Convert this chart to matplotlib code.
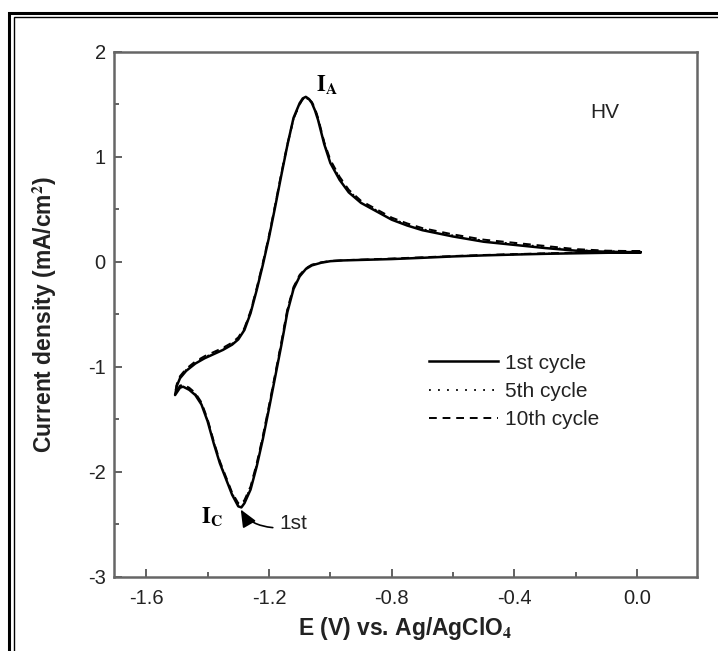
import matplotlib
matplotlib.use('Agg')
import matplotlib.pyplot as plt
from matplotlib.patches import Rectangle
from matplotlib.ticker import MultipleLocator

plt.rcParams['font.family'] = ['Liberation Sans', 'DejaVu Sans']
plt.rcParams['mathtext.fontset'] = 'stix'
plt.rcParams['axes.unicode_minus'] = False

# potential scan 0 V -> -1.5 V (cathodic sweep)
E_fwd = [0.01, -0.10, -0.20, -0.30, -0.40, -0.50, -0.60, -0.70, -0.80, -0.90,
         -0.96, -1.00, -1.03, -1.06, -1.08, -1.10, -1.12, -1.14, -1.16, -1.18,
         -1.20, -1.22, -1.24, -1.26, -1.28, -1.29, -1.30, -1.32, -1.34, -1.36,
         -1.38, -1.40, -1.42, -1.44, -1.46, -1.48, -1.49, -1.506]
i_fwd_1 = [0.09, 0.085, 0.08, 0.075, 0.068, 0.06, 0.05, 0.037, 0.025, 0.017,
           0.012, 0.005, -0.01, -0.035, -0.07, -0.14, -0.26, -0.48, -0.80, -1.10,
           -1.40, -1.69, -1.95, -2.17, -2.30, -2.34, -2.33, -2.22, -2.07, -1.92,
           -1.73, -1.52, -1.36, -1.27, -1.22, -1.19, -1.20, -1.27]
i_fwd_5 = [0.095, 0.09, 0.083, 0.077, 0.07, 0.062, 0.052, 0.04, 0.028, 0.019,
           0.013, 0.006, -0.008, -0.03, -0.065, -0.13, -0.25, -0.46, -0.78, -1.08,
           -1.38, -1.67, -1.93, -2.15, -2.28, -2.32, -2.31, -2.21, -2.06, -1.91,
           -1.72, -1.51, -1.35, -1.26, -1.21, -1.18, -1.19, -1.26]
i_fwd_10 = [0.10, 0.093, 0.086, 0.08, 0.072, 0.064, 0.054, 0.042, 0.03, 0.02,
            0.014, 0.007, -0.006, -0.028, -0.062, -0.125, -0.24, -0.45, -0.77, -1.07,
            -1.37, -1.66, -1.92, -2.14, -2.27, -2.31, -2.30, -2.20, -2.05, -1.90,
            -1.71, -1.50, -1.34, -1.25, -1.20, -1.17, -1.18, -1.25]

# return scan -1.5 V -> 0 V (anodic sweep)
E_rev = [-1.506, -1.50, -1.49, -1.47, -1.44, -1.41, -1.38, -1.35, -1.32, -1.30,
         -1.28, -1.26, -1.24, -1.22, -1.20, -1.18, -1.16, -1.14, -1.12, -1.10,
         -1.09, -1.08, -1.07, -1.06, -1.05, -1.04, -1.02, -1.00, -0.97, -0.94,
         -0.90, -0.85, -0.80, -0.75, -0.70, -0.60, -0.50, -0.40, -0.30, -0.20,
         -0.10, 0.01]
i_rev_1 = [-1.27, -1.18, -1.11, -1.04, -0.97, -0.92, -0.88, -0.84, -0.79, -0.74,
           -0.65, -0.49, -0.27, -0.03, 0.23, 0.52, 0.82, 1.11, 1.37, 1.51,
           1.555, 1.57, 1.55, 1.51, 1.44, 1.35, 1.12, 0.94, 0.78, 0.66,
           0.56, 0.48, 0.40, 0.345, 0.30, 0.24, 0.19, 0.16, 0.13, 0.105,
           0.095, 0.09]
i_rev_5 = [-1.26, -1.17, -1.10, -1.03, -0.96, -0.91, -0.87, -0.83, -0.78, -0.73,
           -0.64, -0.48, -0.26, -0.02, 0.24, 0.53, 0.83, 1.11, 1.36, 1.50,
           1.545, 1.56, 1.545, 1.51, 1.45, 1.36, 1.13, 0.96, 0.80, 0.675,
           0.57, 0.49, 0.41, 0.355, 0.31, 0.25, 0.20, 0.17, 0.14, 0.11,
           0.10, 0.095]
i_rev_10 = [-1.25, -1.16, -1.09, -1.02, -0.95, -0.90, -0.86, -0.82, -0.77, -0.72,
            -0.63, -0.47, -0.25, -0.01, 0.25, 0.54, 0.84, 1.12, 1.36, 1.50,
            1.545, 1.56, 1.55, 1.52, 1.46, 1.37, 1.14, 0.97, 0.81, 0.685,
            0.58, 0.50, 0.42, 0.365, 0.32, 0.26, 0.21, 0.18, 0.15, 0.12,
            0.105, 0.10]

x_ticks = [-1.6, -1.2, -0.8, -0.4, 0.0]
x_tick_labels = ['-1.6', '-1.2', '-0.8', '-0.4', '0.0']
y_ticks = [-3, -2, -1, 0, 1, 2]

fig = plt.figure(figsize=(7.18, 6.51), dpi=100)
ax = fig.add_axes([0.1588, 0.1141, 0.8120, 0.8065])

ax.plot(E_fwd + E_rev[1:], i_fwd_10 + i_rev_10[1:], color='black', lw=1.4,
        ls=(0, (4, 3)), label='10th cycle', zorder=2)
ax.plot(E_fwd + E_rev[1:], i_fwd_5 + i_rev_5[1:], color='black', lw=1.3,
        ls=(0, (1, 4)), label='5th cycle', zorder=3)
ax.plot(E_fwd + E_rev[1:], i_fwd_1 + i_rev_1[1:], color='black', lw=1.8,
        ls='-', label='1st cycle', zorder=4)

ax.set_xlim(-1.705, 0.195)
ax.set_ylim(-3, 2)
ax.set_xticks(x_ticks)
ax.set_xticklabels(x_tick_labels)
ax.set_yticks(y_ticks)
ax.xaxis.set_minor_locator(MultipleLocator(0.2))
ax.yaxis.set_minor_locator(MultipleLocator(0.5))
ax.tick_params(which='both', direction='in', colors='#555555', labelcolor='#222222',
               labelsize=14.5, width=1.3)
ax.tick_params(which='major', length=6)
ax.tick_params(which='minor', length=3.5)
ax.tick_params(axis='x', which='major', pad=9)
ax.tick_params(axis='y', which='major', pad=6)
for s in ax.spines.values():
    s.set_color('#666666')
    s.set_linewidth(1.8)

ax.set_xlabel(r'E (V) vs. Ag/AgClO$_\mathbf{4}$', fontsize=16.5, fontweight='bold',
              color='#222222', labelpad=5)
ax.set_ylabel(r'Current density (mA/cm$^\mathbf{2}$)', fontsize=16.5, fontweight='bold',
              color='#222222', labelpad=21)

# peak labels
ax.text(-1.048, 1.69, r'$\mathbf{I}_\mathbf{A}$', fontsize=16, ha='left', va='center')
ax.text(-1.42, -2.43, r'$\mathbf{I}_\mathbf{C}$', fontsize=16, ha='left', va='center')
ax.text(-0.106, 1.42, 'HV', fontsize=15, ha='center', va='center', color='#222222')
ax.annotate('1st', xy=(-1.292, -2.36), xytext=(-1.165, -2.49), fontsize=15,
            color='#222222', ha='left', va='center',
            arrowprops=dict(arrowstyle='-|>,head_length=0.7,head_width=0.3',
                            connectionstyle='angle3,angleA=0,angleB=-60',
                            color='black', lw=1.2, relpos=(0, 0.25),
                            shrinkA=3, shrinkB=0))

handles, labels = ax.get_legend_handles_labels()
ax.legend(handles[::-1], labels[::-1], loc='upper left',
          bbox_to_anchor=(0.54, 0.425), frameon=False, fontsize=15,
          handlelength=3.3, handletextpad=0.35, labelspacing=0.45,
          borderpad=0, borderaxespad=0, labelcolor='#222222')

# double border around the figure
W, H = 718, 651
fig.add_artist(Rectangle((9 / W, -0.05), (740 - 9) / W, (H - 13) / H + 0.05,
                         transform=fig.transFigure, fill=False, lw=2.2,
                         edgecolor='black'))
fig.add_artist(Rectangle((13.5 / W, -0.05), (740 - 13.5) / W, (H - 17) / H + 0.05,
                         transform=fig.transFigure, fill=False, lw=1.0,
                         edgecolor='black'))

fig.savefig('out.png', dpi=100)
